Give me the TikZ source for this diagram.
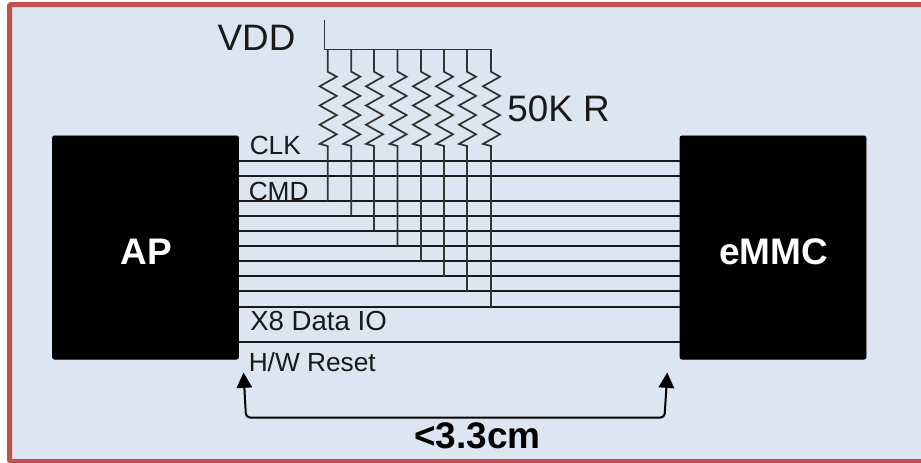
\documentclass[tikz,border=0pt]{standalone}
\usepackage{fontspec}
\setmainfont{Liberation Sans}
\usetikzlibrary{arrows.meta}
\definecolor{panelfill}{HTML}{DCE6F2}
\definecolor{panelborder}{HTML}{C0504D}
\definecolor{wire}{HTML}{1A1A1A}
\definecolor{stub}{HTML}{333333}
\tikzset{
  x=0.75pt,y=-0.75pt,
  chip/.style={fill=black,draw=black,line width=0.5pt,rounded corners=1.5pt},
  chiplabel/.style={text=white,font=\fontsize{27.75pt}{30pt}\selectfont\bfseries,anchor=base,inner sep=0pt},
  biglabel/.style={font=\fontsize{27.6pt}{30pt}\selectfont,anchor=base,inner sep=0pt,text=black!90},
  siglabel/.style={font=\fontsize{19.7pt}{22pt}\selectfont,anchor=base west,inner sep=0pt,text=black!90},
  buswire/.style={draw=wire,line width=1.5pt},
  pullwire/.style={draw=stub,line width=1.3pt,line join=miter},
  span/.style={draw=black,line width=1.5pt,rounded corners=3pt,{Triangle[length=11.5pt,width=11.5pt]}-{Triangle[length=11.5pt,width=11.5pt]}}
}
\begin{document}
\begin{tikzpicture}
\useasboundingbox (0,0) rectangle (921,462);
\fill[white] (0,0) rectangle (921,462);
\draw[panelborder,fill=panelfill,line width=3.75pt,rounded corners=1pt] (9.5,4.5) rectangle (930,461.5);

% chips
\node[chip,minimum width=139.5pt,minimum height=167.5pt,inner sep=0pt] (ap) at (145.5,247.5) {};
\node[chip,minimum width=139.5pt,minimum height=167.5pt,inner sep=0pt] (emmc) at (773,247.5) {};
\node[chiplabel] (aplabel) at (146,264) {AP};
\node[chiplabel] (emmclabel) at (773.5,264) {eMMC};

% bus wires
\foreach \n/\y in {1/160.7,2/175.5,3/201,4/215.7,5/230.7,6/246,7/261.3,8/276.3,9/291,10/307,11/342}{
  \coordinate (la\n) at (239,\y);
  \coordinate (ra\n) at (680,\y);
  \draw[buswire] (la\n) -- (ra\n);
}

% supply
\coordinate (vtop) at (324.5,20);
\coordinate (vcorner) at (324.5,49.5);
\coordinate (vend) at (491.5,49.5);
\draw[pullwire] (vtop) -- (vcorner) -- (vend);

% pull-up resistors
\foreach \n/\x/\t in {3/327.7/1,4/351.3/2,5/374/3,6/397.6/4,7/421/5,8/444/6,9/467/7,10/491/8}{
  \coordinate (pa\t) at (\x,49.5);
  \draw[pullwire] (pa\t) -- (\x,71.7)
    -- ++(9,5) -- ++(-17,9.6) -- ++(17,9.6) -- ++(-17,9.6) -- ++(17,9.6)
    -- ++(-17,9.6) -- ++(17,9.6) -- ++(-17,9.6) -- (\x,146)
    -- (\x,0 |- la\n);
}

% labels
\node[biglabel] (vdd) at (256.5,50.7) {VDD};
\node[biglabel] (rlabel) at (558.5,121) {50K R};
\node[siglabel] (clk) at (249.5,154) {CLK};
\node[siglabel] (cmd) at (248.5,200) {CMD};
\node[siglabel,font=\fontsize{20.7pt}{22pt}\selectfont] (xdata) at (250,330.7) {X8 Data IO};
\node[siglabel] (hwr) at (248.5,371.7) {H/W Reset};
\node[font=\fontsize{27.75pt}{30pt}\selectfont\bfseries,anchor=base,inner sep=0pt] (dist) at (477.5,448) {<3.3cm};

% length span
\coordinate (sl) at (243.5,372.5);
\coordinate (sla) at (246,417.5);
\coordinate (sra) at (664.5,417.5);
\coordinate (sr) at (667.3,372.5);
\draw[span] (sl) -- (sla) -- (sra) -- (sr);
\end{tikzpicture}
\end{document}
